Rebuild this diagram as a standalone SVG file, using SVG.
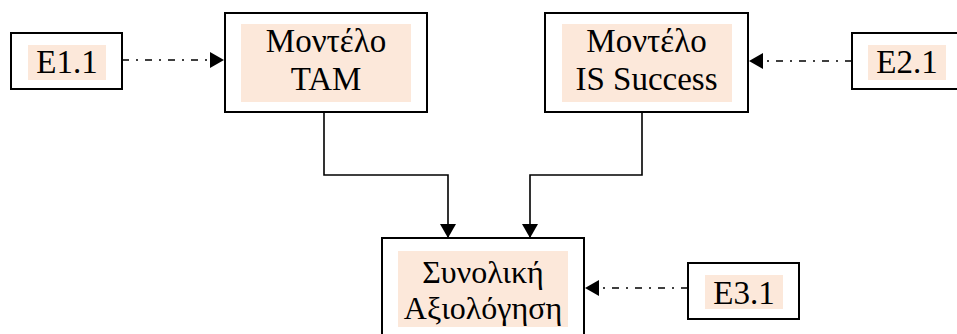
<svg xmlns="http://www.w3.org/2000/svg" width="957" height="334" viewBox="0 0 957 334">
  <style>
    .box { fill: #ffffff; stroke: #000000; stroke-width: 2; }
    .shade { fill: #fce8da; }
    .flow { fill: none; stroke: #000000; stroke-width: 1.6; }
    .link { fill: none; stroke: #000000; stroke-width: 1.6; stroke-dasharray: 7 7 2 7; }
  </style>
  <defs>
    <marker id="head" viewBox="0 0 14 16" refX="14" refY="8" markerWidth="14" markerHeight="16" markerUnits="userSpaceOnUse" orient="auto">
      <path d="M0,0 L14,8 L0,16 Z" fill="#000000"/>
    </marker>
  </defs>

  <g id="connectors">
    <path class="flow" d="M324,112 V175 H448 V238" marker-end="url(#head)"/>
    <path class="flow" d="M642,112 V175 H530 V238" marker-end="url(#head)"/>
    <path class="link" d="M122,60 H224" marker-end="url(#head)"/>
    <path class="link" d="M852,61 H749" marker-end="url(#head)"/>
    <path class="link" d="M688,288 H585" marker-end="url(#head)"/>
  </g>

  <g font-family="Liberation Serif, serif" font-size="33" text-anchor="middle" fill="#000000">
    <g id="e11">
      <rect class="box" x="11" y="33" width="111" height="56"/>
      <rect class="shade" x="28" y="45" width="78" height="35"/>
      <text x="67" y="73">E1.1</text>
    </g>

    <g id="tam">
      <rect class="box" x="225" y="13" width="202" height="99"/>
      <rect class="shade" x="241" y="24" width="170" height="78"/>
      <text x="326" y="52">Μοντέλο</text>
      <text x="326" y="90">TAM</text>
    </g>

    <g id="is-success">
      <rect class="box" x="545" y="13" width="203" height="99"/>
      <rect class="shade" x="562" y="24" width="170" height="78"/>
      <text x="646.5" y="52">Μοντέλο</text>
      <text x="646.5" y="90">IS Success</text>
    </g>

    <g id="e21">
      <rect class="box" x="852" y="33" width="110" height="56"/>
      <rect class="shade" x="868" y="45" width="78" height="35"/>
      <text x="907" y="73">E2.1</text>
    </g>

    <g id="overall" font-size="32">
      <rect class="box" x="382" y="238" width="202" height="110"/>
      <rect class="shade" x="398" y="251" width="170" height="76"/>
      <text x="483" y="283">Συνολική</text>
      <text x="483" y="319">Αξιολόγηση</text>
    </g>

    <g id="e31">
      <rect class="box" x="688" y="263" width="111" height="56"/>
      <rect class="shade" x="705" y="275" width="78" height="34"/>
      <text x="744" y="304">E3.1</text>
    </g>
  </g>
</svg>
